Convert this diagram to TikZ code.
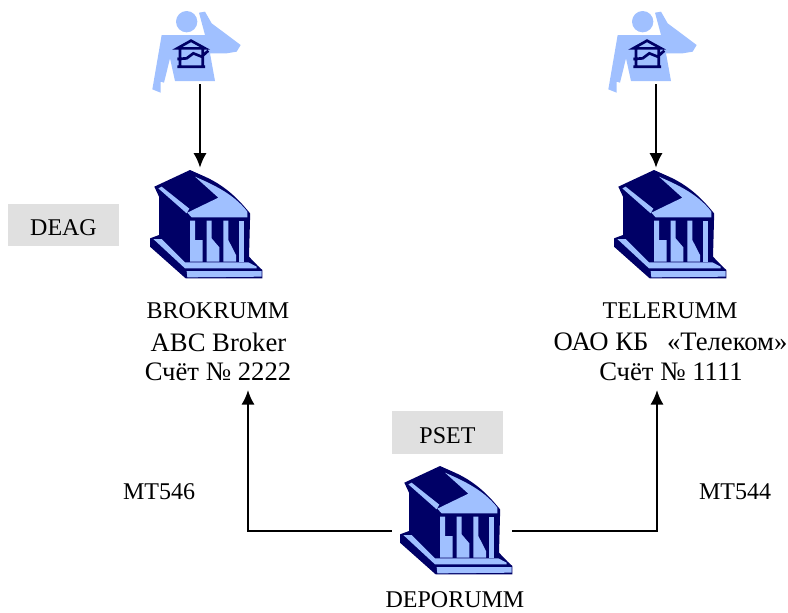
\documentclass[tikz,border=0pt]{standalone}
\usepackage{fontspec}
\setmainfont{Liberation Serif}
\usepackage{xcolor}
\usetikzlibrary{calc,positioning,arrows.meta}
\definecolor{navy}{HTML}{000066}
\definecolor{sky}{HTML}{A0C0FF}
\definecolor{tag}{HTML}{E0E0E0}
\tikzset{
  conn/.style={draw=black, line width=1.6pt, -{Latex[length=11pt,width=10pt]}},
  tagbox/.style={fill=tag, minimum width=83.25pt, minimum height=32pt, inner sep=0pt, text height=16pt, text depth=0pt, font=\fontsize{18}{20}\selectfont},
  lab/.style={inner sep=0pt, font=\fontsize{18}{20}\selectfont},
  labbig/.style={inner sep=0pt, font=\fontsize{20}{22}\selectfont},
  hold/.style={inner sep=0pt, minimum width=90pt, minimum height=84pt},
  bank/.pic={
    \begin{scope}[x=.25pt,y=-.25pt,shift={(-201,-192)}]
      \fill[navy] (150,30)--(43,80)--(57,110)--(57,225)--(30,235)--(30,260)--(137,355)--(367,355)--(367,330)
        --(353,317)--(327,290)--(330,180)--(330,160) .. controls (290,110) and (250,75) .. (195,50)--cycle;
      \fill[sky] (55,85)--(65,80)--(148,146)--(140,160)--cycle;
      \fill[sky] (165,50) .. controls (215,72) and (280,100) .. (322,155)--(322,172)--(155,172)--(142,158)--(235,113)--cycle;
      \fill[sky] (150,182)--(165,182)--(165,240)--(188,240)--(188,305)--(150,305)--cycle;
      \fill[sky] (200,182)--(215,182)--(215,235)--(238,262)--(238,305)--(200,305)--cycle;
      \fill[sky] (250,182)--(265,182)--(265,240)--(288,285)--(288,305)--(250,305)--cycle;
      \fill[sky] (298,182)--(313,182)--(313,305)--(298,305)--cycle;
      \fill[sky] (40,237)--(65,237)--(135,307)--(325,307)--(350,320)--(350,325)--(135,325)--cycle;
      \fill[sky] (140,333)--(365,333)--(365,350)--(142,352)--cycle;
    \end{scope}
  },
  user/.pic={
    \begin{scope}[x=.25pt,y=-.25pt,shift={(-210,-135)}]
      \fill[sky] (170,65) circle (32);
      \fill[sky] (207,38)--(225,35)--(245,70)--(332,135)--(320,155)--(290,160)--(240,160)--(255,243)--(135,243)
        --(120,175)--(102,248)--(92,245)--(92,278)--(67,268)--(95,105)--(225,105)--cycle;
      \draw[navy,line width=2pt] (142,145)--(183,122)--(225,145)--cycle (150,145)--(150,200) (218,145)--(218,200)
        (142,200)--(225,200) (142,177)--(170,175)--(190,160)--(215,170)--(235,152);
    \end{scope}
  },
}
\begin{document}
\begin{tikzpicture}[x=.75pt,y=-.75pt]
  \useasboundingbox (0,0) rectangle (788,612);

  \node[hold] (userA) at (200,28) {}; \pic at (200,45) {user};
  \node[hold] (userB) at (656,28) {}; \pic at (656,45) {user};
  \node[hold] (brok) at (200,224) {}; \pic at (207,224) {bank};
  \node[hold] (tele) at (656,224) {}; \pic at (671,224) {bank};
  \node[hold] (depo) at (452,531) {}; \pic at (457,520) {bank};

  \node[tagbox] (deag) at (63.5,225) {DEAG};
  \node[tagbox] (pset) at (447.5,432.5) {PSET};

  \node[lab] (brokname) at (218,311) {BROKRUMM};
  \node[labbig] (brokorg) at (218.5,342) {ABC Broker};
  \node[labbig] (brokacc) at (218,372) {Счёт № 2222};
  \node[lab] (telename) at (670,311) {TELERUMM};
  \node[labbig] (teleorg) at (670.5,342) {ОАО КБ\hspace{14pt}«Телеком»};
  \node[labbig] (teleacc) at (671,372) {Счёт № 1111};
  \node[lab] (deponame) at (455,600) {DEPORUMM};
  \node[lab] (mtl) at (159,492) {MT546};
  \node[lab] (mtr) at (735,492) {MT544};

  \coordinate (brokin) at (248,390);
  \coordinate (telein) at (657,390);

  \draw[conn] (userA) -- (brok);
  \draw[conn] (userB) -- (tele);
  \draw[conn] (depo.west) -| (brokin);
  \draw[conn] (depo.east) -| (telein);
\end{tikzpicture}
\end{document}
